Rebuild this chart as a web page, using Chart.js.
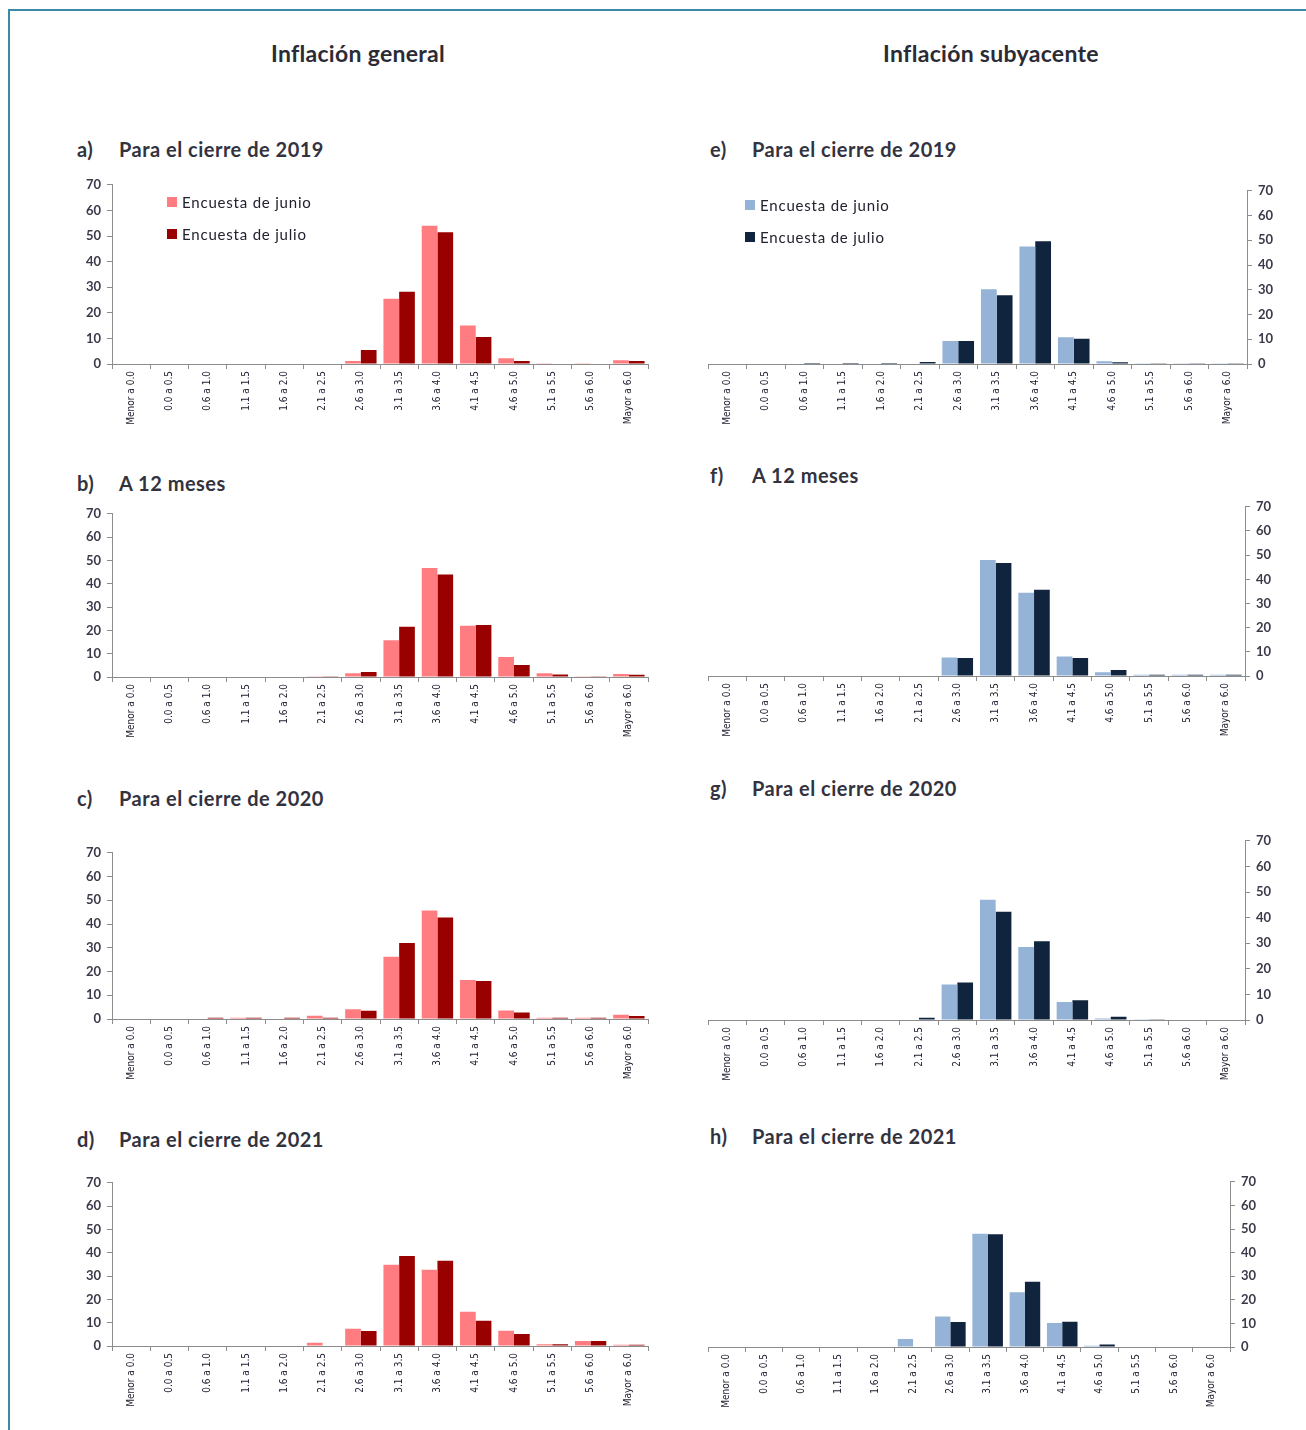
<!DOCTYPE html>
<html lang="es">
<head>
<meta charset="utf-8">
<title>Distribución de expectativas de inflación</title>
<script src="https://cdn.jsdelivr.net/npm/chart.js@4.4.1/dist/chart.umd.min.js"></script>
<style>
  html, body { margin: 0; padding: 0; background: #fff; }
  body { width: 1306px; height: 1430px; position: relative; overflow: hidden; font-family: Lato, "Open Sans", sans-serif; }
  .marco-top { position: absolute; left: 9px; top: 9px; right: 0; height: 2px; background: #3b8ba6; }
  .marco-left { position: absolute; left: 8px; top: 9px; bottom: 0; width: 2px; background: #3b8ba6; }
  .encabezado { position: absolute; top: 39px; font-size: 23px; letter-spacing: 0.3px; font-weight: 700; color: #2b2b36; transform: translateX(-50%); white-space: nowrap; }
  .titulo { position: absolute; font-size: 20px; letter-spacing: 0.5px; font-weight: 700; color: #333340; white-space: nowrap; }
  .titulo .letra { position: absolute; left: 0; }
  .titulo .texto { position: absolute; left: 42px; }
  .grafico { position: absolute; }
  .leyenda { position: absolute; font-size: 15px; letter-spacing: 0.8px; color: #222230; }
  .leyenda div { height: 32px; display: flex; align-items: flex-start; white-space: nowrap; }
  .leyenda span.cuadro { display: inline-block; width: 10px; height: 10px; margin-right: 5px; margin-top: 4px; }
</style>
</head>
<body>
<div class="marco-top"></div>
<div class="marco-left"></div>
<div class="encabezado" style="left:358px">Inflación general</div>
<div class="encabezado" style="left:991px">Inflación subyacente</div>

<script>
// Rangos de inflación esperada (%)
const CATEGORIAS = ["Menor a 0.0", "0.0 a 0.5", "0.6 a 1.0", "1.1 a 1.5", "1.6 a 2.0", "2.1 a 2.5",
  "2.6 a 3.0", "3.1 a 3.5", "3.6 a 4.0", "4.1 a 4.5", "4.6 a 5.0", "5.1 a 5.5", "5.6 a 6.0", "Mayor a 6.0"];
const SERIES = ["Encuesta de junio", "Encuesta de julio"];
const Y_MAX = 70;
const Y_PASO = 10;

// Inflación general (porcentaje de respuestas)
const genCierre2019Jun = [0, 0, 0, 0, 0, 0.2, 1.2, 25.5, 54, 15, 2.2, 0.3, 0.3, 1.5];
const genCierre2019Jul = [0, 0, 0, 0, 0, 0, 5.5, 28.2, 51.5, 10.5, 1.2, 0.2, 0.2, 1.2];
const gen12MesesJun = [0, 0, 0, 0, 0, 0.3, 1.6, 15.8, 46.7, 22, 8.6, 1.6, 0.3, 1.3];
const gen12MesesJul = [0, 0, 0, 0, 0, 0.3, 2.1, 21.5, 44, 22.3, 5.2, 1.1, 0.3, 1.0];
const genCierre2020Jun = [0, 0, 0, 0.5, 0, 1.4, 4.1, 26.2, 45.7, 16.4, 3.6, 0.5, 0.5, 1.8];
const genCierre2020Jul = [0, 0, 0.5, 0.5, 0.5, 0.5, 3.5, 32, 42.7, 16, 2.7, 0.5, 0.5, 1.3];
const genCierre2021Jun = [0, 0, 0, 0, 0, 1.4, 7.4, 34.8, 32.7, 14.7, 6.5, 0.8, 2.1, 0.5];
const genCierre2021Jul = [0, 0, 0, 0, 0, 0, 6.4, 38.6, 36.6, 10.8, 5.1, 0.8, 2.1, 0.5];

// Inflación subyacente
const subCierre2019Jun = [0, 0, 0, 0, 0, 0, 9.3, 30.2, 47.5, 10.8, 1.1, 0.3, 0.3, 0.3];
const subCierre2019Jul = [0, 0, 0.4, 0.4, 0.4, 0.8, 9.3, 27.8, 49.6, 10.2, 0.7, 0.3, 0.3, 0.3];
const sub12MesesJun = [0, 0, 0, 0, 0, 0, 7.7, 48, 34.4, 8.1, 1.6, 0.5, 0.5, 0.5];
const sub12MesesJul = [0, 0, 0, 0, 0, 0, 7.4, 46.8, 35.7, 7.4, 2.5, 0.5, 0.5, 0.5];
const subCierre2020Jun = [0, 0, 0, 0, 0, 0, 13.9, 47, 28.5, 7, 0.6, 0.3, 0, 0];
const subCierre2020Jul = [0, 0.2, 0.2, 0.2, 0.2, 0.9, 14.6, 42.3, 30.8, 7.7, 1.3, 0.3, 0.2, 0.2];
const subCierre2021Jun = [0, 0, 0, 0, 0, 3.4, 12.9, 48, 23.2, 10.2, 0.5, 0, 0, 0];
const subCierre2021Jul = [0, 0, 0, 0, 0, 0, 10.6, 47.8, 27.6, 10.7, 1.1, 0, 0, 0];

const COLORES_GEN = ["#ff7c80", "#990000"];
const COLORES_SUB = ["#95b3d7", "#10243e"];

const Y_ANCHO = 52;   // ancho reservado para etiquetas del eje y
const X_ALTO = 66;    // alto reservado para etiquetas del eje x
const PAD = 8;
const AJUSTE_TOP = 5; // chart.js deja unos px extra arriba

// área de trazado (left, top, right, bottom) de cada panel
const paneles = [
  { id: "a", titulo: "Para el cierre de 2019", tituloY: 137, area: [112, 184, 648, 364], lado: "left", colores: COLORES_GEN, jun: genCierre2019Jun, jul: genCierre2019Jul, leyenda: [167, 193] },
  { id: "b", titulo: "A 12 meses", tituloY: 471, area: [112, 513, 648, 677], lado: "left", colores: COLORES_GEN, jun: gen12MesesJun, jul: gen12MesesJul },
  { id: "c", titulo: "Para el cierre de 2020", tituloY: 786, area: [112, 852, 648, 1019], lado: "left", colores: COLORES_GEN, jun: genCierre2020Jun, jul: genCierre2020Jul },
  { id: "d", titulo: "Para el cierre de 2021", tituloY: 1127, area: [112, 1182, 648, 1346], lado: "left", colores: COLORES_GEN, jun: genCierre2021Jun, jul: genCierre2021Jul },
  { id: "e", titulo: "Para el cierre de 2019", tituloY: 137, area: [708, 190, 1247, 364], lado: "right", colores: COLORES_SUB, jun: subCierre2019Jun, jul: subCierre2019Jul, leyenda: [745, 196] },
  { id: "f", titulo: "A 12 meses", tituloY: 463, area: [708, 506, 1245, 676], lado: "right", colores: COLORES_SUB, jun: sub12MesesJun, jul: sub12MesesJul },
  { id: "g", titulo: "Para el cierre de 2020", tituloY: 776, area: [708, 840, 1245, 1020], lado: "right", colores: COLORES_SUB, jun: subCierre2020Jun, jul: subCierre2020Jul },
  { id: "h", titulo: "Para el cierre de 2021", tituloY: 1124, area: [708, 1181, 1230, 1347], lado: "right", colores: COLORES_SUB, jun: subCierre2021Jun, jul: subCierre2021Jul }
];

function crearPanel(p) {
  const [L, T, R, B] = p.area;
  const izq = p.lado === "left";

  // título del panel
  const t = document.createElement("div");
  t.className = "titulo";
  t.style.left = (izq ? 77 : 710) + "px";
  t.style.top = p.tituloY + "px";
  t.innerHTML = `<span class="letra">${p.id})</span><span class="texto">${p.titulo}</span>`;
  document.body.appendChild(t);

  // contenedor del canvas
  const caja = document.createElement("div");
  caja.className = "grafico";
  const ancho = (R - L) + Y_ANCHO + PAD;
  caja.style.left = (izq ? L - Y_ANCHO : L - PAD) + "px";
  caja.style.top = (T - PAD - AJUSTE_TOP) + "px";
  caja.style.width = ancho + "px";
  caja.style.height = ((B - T) + PAD + AJUSTE_TOP + X_ALTO) + "px";
  const canvas = document.createElement("canvas");
  caja.appendChild(canvas);
  document.body.appendChild(caja);

  new Chart(canvas, {
    type: "bar",
    data: {
      labels: CATEGORIAS,
      datasets: [
        { label: SERIES[0], data: p.jun, backgroundColor: p.colores[0], borderWidth: 0 },
        { label: SERIES[1], data: p.jul, backgroundColor: p.colores[1], borderWidth: 0 }
      ]
    },
    options: {
      responsive: true,
      maintainAspectRatio: false,
      animation: false,
      datasets: { bar: { categoryPercentage: 0.82, barPercentage: 1.0 } },
      layout: { padding: { top: PAD, bottom: 0, left: izq ? 0 : PAD, right: izq ? PAD : 0 } },
      scales: {
        x: {
          afterFit: (s) => { s.height = X_ALTO; },
          grid: { drawOnChartArea: false, drawTicks: true, tickLength: 5, color: "#8c8c8c", offset: true },
          border: { color: "#8c8c8c", width: 1 },
          ticks: {
            autoSkip: false, minRotation: 90, maxRotation: 90, padding: 2,
            color: "#222233",
            font: { family: '"Liberation Sans Narrow", "DejaVu Sans Condensed", sans-serif', size: 10 }
          }
        },
        y: {
          position: p.lado,
          min: 0, max: Y_MAX,
          afterFit: (s) => { s.width = Y_ANCHO; },
          grid: { drawOnChartArea: false, drawTicks: true, tickLength: 5, color: "#8c8c8c" },
          border: { color: "#8c8c8c", width: 1 },
          ticks: {
            stepSize: Y_PASO, padding: 6,
            color: "#3a3a4a",
            font: { family: "Lato, sans-serif", size: 13, weight: "bold" }
          }
        }
      },
      plugins: { legend: { display: false }, tooltip: { enabled: false } }
    }
  });

  // leyenda dentro del área (solo paneles a y e)
  if (p.leyenda) {
    const ley = document.createElement("div");
    ley.className = "leyenda";
    ley.style.left = p.leyenda[0] + "px";
    ley.style.top = p.leyenda[1] + "px";
    ley.innerHTML = SERIES.map((s, i) =>
      `<div><span class="cuadro" style="background:${p.colores[i]}"></span>${s}</div>`).join("");
    document.body.appendChild(ley);
  }
}

paneles.forEach(crearPanel);
</script>
</body>
</html>
